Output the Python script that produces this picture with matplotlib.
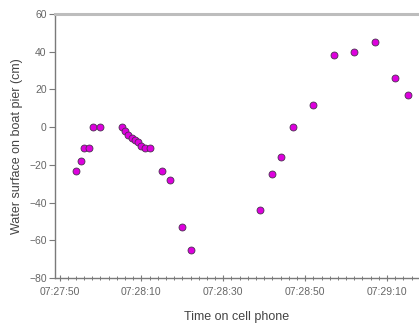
"""Water surface on boat pier vs. phone time."""
import matplotlib
matplotlib.use("Agg")
import matplotlib.pyplot as plt
import matplotlib.dates as mdates
import pandas as pd

# phone clock times and measured water level (cm)
times = [
    "07:27:54.0", "07:27:55.2", "07:27:56.1", "07:27:57.3", "07:27:58.1",
    "07:28:00.0", "07:28:05.2", "07:28:06.0", "07:28:06.8", "07:28:07.6",
    "07:28:08.4", "07:28:09.2", "07:28:10.0", "07:28:11.0", "07:28:12.0",
    "07:28:15.0", "07:28:17.0", "07:28:20.0", "07:28:22.0", "07:28:39.0",
    "07:28:42.0", "07:28:44.0", "07:28:47.0", "07:28:52.0", "07:28:57.0",
    "07:29:02.0", "07:29:07.0", "07:29:12.0", "07:29:15.0",
]
level = [
    -23, -18, -11, -11, 0,
    0, 0, -2, -4, -6,
    -7, -8, -10, -11, -11,
    -23, -28, -53, -65, -44,
    -25, -16, 0, 12, 38,
    40, 45, 26, 17,
]
x_range = ["07:27:48.9", "07:29:17.8"]
y_range = [-80, 60]

plt.rcParams["font.family"] = ["Liberation Sans", "DejaVu Sans"]

t = pd.to_datetime(times, format="%H:%M:%S.%f")
xr = pd.to_datetime(x_range, format="%H:%M:%S.%f")

fig = plt.figure(figsize=(4.19, 3.25), dpi=100)
ax = fig.add_axes([55 / 419, 47 / 325, 364 / 419, 264 / 325])

ax.plot(t, level, ls="none", marker="o", ms=5.0, mfc="#dd00dd",
        mec="#4a3050", mew=0.6)

ax.set_xlim(xr[0], xr[1])
ax.set_ylim(*y_range)
ax.set_yticks(range(-80, 61, 20))

ax.xaxis.set_major_locator(mdates.SecondLocator(bysecond=[10, 30, 50]))
ax.xaxis.set_minor_locator(mdates.SecondLocator(bysecond=range(0, 60, 2)))
ax.xaxis.set_major_formatter(mdates.DateFormatter("%H:%M:%S"))

gray = "#7a7a7a"
for s in ("left", "bottom"):
    ax.spines[s].set_color(gray)
    ax.spines[s].set_linewidth(1.0)
ax.spines["right"].set_visible(False)
ax.spines["top"].set_color("#bdbdbd")
ax.spines["top"].set_linewidth(2.2)

ax.tick_params(axis="y", direction="out", length=4, width=0.8, color=gray,
               labelcolor="#666666", labelsize=7.5, pad=2)
ax.tick_params(axis="x", which="major", direction="inout", length=5, width=0.8,
               color=gray, labelcolor="#666666", labelsize=7.5, pad=4)
ax.tick_params(axis="x", which="minor", direction="inout", length=3, width=0.7,
               color=gray)

ax.set_xlabel("Time on cell phone", fontsize=9, color="#444444", labelpad=10)
ax.set_ylabel("Water surface on boat pier (cm)", fontsize=9, color="#444444",
              labelpad=4)

fig.savefig("out.png", dpi=100)
